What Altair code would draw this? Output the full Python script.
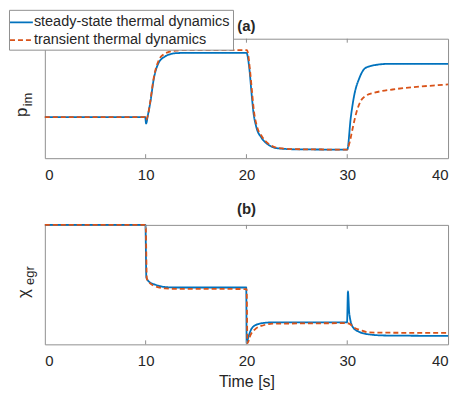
import altair as alt
import pandas as pd

FONT = "Liberation Sans"
TXT = "#262626"
FRAME = "#8f8f8f"

SERIES = ["steady-state thermal dynamics", "transient thermal dynamics"]
COLORS = ["#0072BD", "#D95319"]
DASHES = [[1, 0], [5, 3]]

X_TICKS = [0, 10, 20, 30, 40]
INNER_TICKS = [10, 20, 30]

# panel (a): p_im (normalised units)
ta_s = [0, 9.95, 10.05, 10.2, 10.45, 10.8, 11.3, 11.9, 12.5, 13.2, 14.5, 20.0,
        20.3, 20.5, 20.7, 20.95, 21.5, 22.1, 23.1, 25.0, 30.0, 30.35, 30.7,
        31.2, 31.8, 32.8, 34.2, 40]
ya_s = [0.344, 0.344, 0.29, 0.35, 0.46, 0.66, 0.80, 0.85, 0.872, 0.88, 0.882,
        0.882, 0.74, 0.55, 0.38, 0.27, 0.17, 0.117, 0.083, 0.074, 0.072, 0.34,
        0.53, 0.67, 0.755, 0.78, 0.79, 0.79]
ta_t = [0, 9.95, 10.05, 10.2, 10.45, 10.8, 11.3, 11.8, 12.3, 13.0, 14, 20.05,
        20.35, 20.55, 20.75, 21.0, 21.55, 22.2, 23.2, 25, 30.0, 30.2, 30.55,
        30.9, 31.35, 31.8, 32.8, 34.5, 36.5, 38.5, 40]
ya_t = [0.344, 0.344, 0.32, 0.35, 0.47, 0.67, 0.82, 0.87, 0.89, 0.90, 0.905,
        0.905, 0.74, 0.56, 0.39, 0.28, 0.18, 0.12, 0.085, 0.075, 0.072, 0.12,
        0.255, 0.38, 0.48, 0.52, 0.55, 0.575, 0.594, 0.608, 0.617]

# panel (b): chi_egr
tb_s = [0, 9.98, 10.07, 10.4, 10.95, 11.9, 13, 19.98, 20.02, 20.2, 20.5, 21.0,
        21.7, 22.6, 25, 29.98, 30.07, 30.2, 30.55, 31.2, 32.2, 33.8, 40]
yb_s = [1.0, 1.0, 0.56, 0.52, 0.50, 0.48, 0.476, 0.476, 0.01, 0.063, 0.13,
        0.165, 0.179, 0.184, 0.184, 0.184, 0.443, 0.26, 0.145, 0.104, 0.083,
        0.074, 0.071]
tb_t = [0, 10.0, 10.12, 10.45, 11.0, 11.9, 13, 20.02, 20.1, 20.4, 20.85, 21.7,
        22.6, 25, 30.0, 30.2, 30.7, 31.35, 32.2, 35, 40]
yb_t = [1.0, 1.0, 0.55, 0.51, 0.485, 0.468, 0.465, 0.463, 0.01, 0.077, 0.126,
        0.16, 0.173, 0.175, 0.177, 0.173, 0.14, 0.118, 0.10, 0.097, 0.096]


def frame(t_s, y_s, t_t, y_t):
    return pd.concat([
        pd.DataFrame({"t": t_s, "v": y_s, "series": SERIES[0]}),
        pd.DataFrame({"t": t_t, "v": y_t, "series": SERIES[1]}),
    ], ignore_index=True)


df_a = frame(ta_s, ya_s, ta_t, ya_t)
df_b = frame(tb_s, yb_s, tb_t, yb_t)
tick_df = pd.DataFrame({"t": INNER_TICKS})

W, H = 405, 120
xscale = alt.Scale(domain=[0, 40], nice=False, zero=False)
yscale = alt.Scale(domain=[0, 1], nice=False, zero=False)


def xaxis(xtitle):
    return alt.Axis(values=X_TICKS, title=xtitle, grid=False, domain=False,
                    ticks=False, labelPadding=9, labelFontSize=15,
                    labelColor=TXT, titleFontSize=16, titleColor=TXT,
                    titleFontWeight="normal", titlePadding=5)


def panel(df, title, xtitle, main, sub, main_pos, sub_pos, legend):
    leg = alt.Legend(title=None, orient="none", legendX=-36, legendY=-29) if legend else None
    ax = xaxis(xtitle)
    lines = alt.Chart(df).mark_line(strokeWidth=1.8, interpolate="monotone").encode(
        x=alt.X("t:Q", scale=xscale, axis=ax),
        y=alt.Y("v:Q", scale=yscale, axis=None),
        color=alt.Color("series:N", scale=alt.Scale(domain=SERIES, range=COLORS), legend=leg),
        strokeDash=alt.StrokeDash("series:N", scale=alt.Scale(domain=SERIES, range=DASHES), legend=leg),
        order=alt.Order("series:N"),
    )
    tb = alt.Chart(tick_df).mark_rule(color=FRAME, strokeWidth=1).encode(
        x=alt.X("t:Q", scale=xscale, axis=ax), y=alt.value(H), y2=alt.value(H - 4))
    tt = alt.Chart(tick_df).mark_rule(color=FRAME, strokeWidth=1).encode(
        x=alt.X("t:Q", scale=xscale, axis=ax), y=alt.value(0), y2=alt.value(4))
    one = pd.DataFrame({"k": [0]})
    m = alt.Chart(one).mark_text(text=main, angle=270, fontSize=17, color=TXT,
                                 align="center", baseline="middle").encode(
        x=alt.value(main_pos[0]), y=alt.value(main_pos[1]))
    s = alt.Chart(one).mark_text(text=sub, angle=270, fontSize=13, color=TXT,
                                 align="center", baseline="middle").encode(
        x=alt.value(sub_pos[0]), y=alt.value(sub_pos[1]))
    return alt.layer(lines, tb, tt, m, s).properties(
        width=W, height=H,
        title=alt.Title(title, fontSize=15, fontWeight="bold", color=TXT, offset=4))


pa = panel(df_a, "(a)", None, "p", "im", (-23, 74), (-17, 61), True)
pb = panel(df_b, "(b)", "Time [s]", "χ", "egr", (-21, 69), (-15, 51), True)

chart = alt.vconcat(pa, pb, spacing=18).properties(
    padding={"left": 0, "top": 0, "right": 5, "bottom": 0}
).configure(font=FONT).configure_view(stroke=FRAME, strokeWidth=1).configure_legend(
    labelFontSize=14.5, labelColor=TXT, labelFont=FONT, fillColor="white",
    strokeColor=FRAME, padding=3, rowPadding=2, symbolType="M-1.35,0L1.35,0",
    symbolSize=289, symbolStrokeWidth=1.8, labelOffset=3, cornerRadius=0,
    labelLimit=400,
)

chart.save("out.html", embed_options={"renderer": "svg", "actions": False})
